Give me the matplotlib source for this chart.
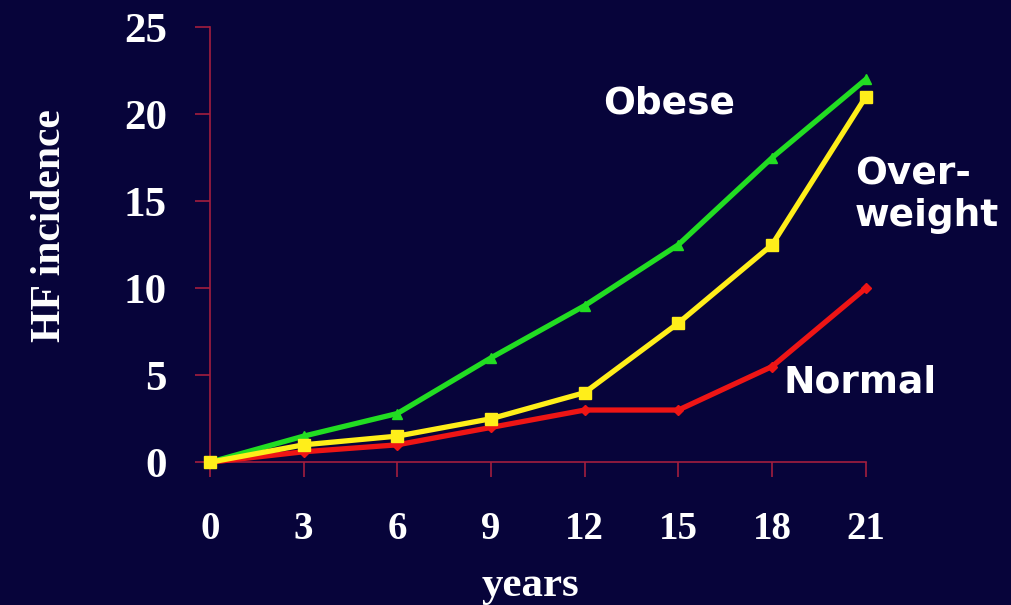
import matplotlib.pyplot as plt
import numpy as np

# data
years = [0, 3, 6, 9, 12, 15, 18, 21]
obese = [0, 1.5, 2.8, 6, 9, 12.5, 17.5, 22]
overweight = [0, 1, 1.5, 2.5, 4, 8, 12.5, 21]
normal = [0, 0.6, 1, 2, 3, 3, 5.5, 10]
y_ticks = [0, 5, 10, 15, 20, 25]

bg = '#07043a'
axis_col = '#a31e3e'

fig = plt.figure(figsize=(10.12, 6.05), dpi=100)
fig.patch.set_facecolor(bg)
ax = plt.axes([0.2075, 0.236, 0.648, 0.719])
ax.set_facecolor(bg)

ax.plot(years, normal, color='#ee1515', lw=3.8, marker='D', markersize=5, zorder=3)
ax.plot(years, obese, color='#22dd22', lw=3.8, marker='^', markersize=7, zorder=4)
ax.plot(years, overweight, color='#ffee1a', lw=3.8, marker='s', markersize=9, zorder=5)

ax.set_xlim(0, 21)
ax.set_ylim(0, 25)
ax.set_xticks(years)
ax.set_yticks(y_ticks)
for l in ax.lines:
	l.set_clip_on(False)

# border
ax.spines['top'].set_visible(False)
ax.spines['right'].set_visible(False)
ax.spines['left'].set_color(axis_col)
ax.spines['bottom'].set_color(axis_col)
ax.spines['left'].set_linewidth(1.2)
ax.spines['bottom'].set_linewidth(1.2)
ax.tick_params(which='major', length=11, width=1.2, color=axis_col, direction='out')
ax.tick_params(axis='x', pad=24)
ax.tick_params(axis='y', pad=20)

for lab in ax.get_xticklabels():
	lab.set_fontfamily('Liberation Serif')
	lab.set_fontweight('bold')
	lab.set_fontsize(28)
	lab.set_color('white')
for lab in ax.get_yticklabels():
	lab.set_fontfamily('Liberation Serif')
	lab.set_fontweight('bold')
	lab.set_fontsize(31)
	lab.set_color('white')

ax.set_xlabel("years", fontsize=31, fontweight='bold', family='Liberation Serif', color='white')
ax.xaxis.set_label_coords(0.488, -0.24)
ax.set_ylabel("HF incidence", fontsize=30, fontweight='bold', family='Liberation Serif', color='white')
ax.yaxis.set_label_coords(-0.215, 0.545)

# series labels
lab_kw = dict(fontsize=27, fontweight='bold', family='DejaVu Sans', color='white')
ax.text(12.6, 20.6, "Obese", ha='left', va='center', **lab_kw)
ax.text(20.65, 15.35, "Over-\nweight", ha='left', va='center', linespacing=1.2, **lab_kw)
ax.text(18.35, 4.6, "Normal", ha='left', va='center', **lab_kw)

plt.savefig("out.png", dpi=100, facecolor=bg)
plt.close()
